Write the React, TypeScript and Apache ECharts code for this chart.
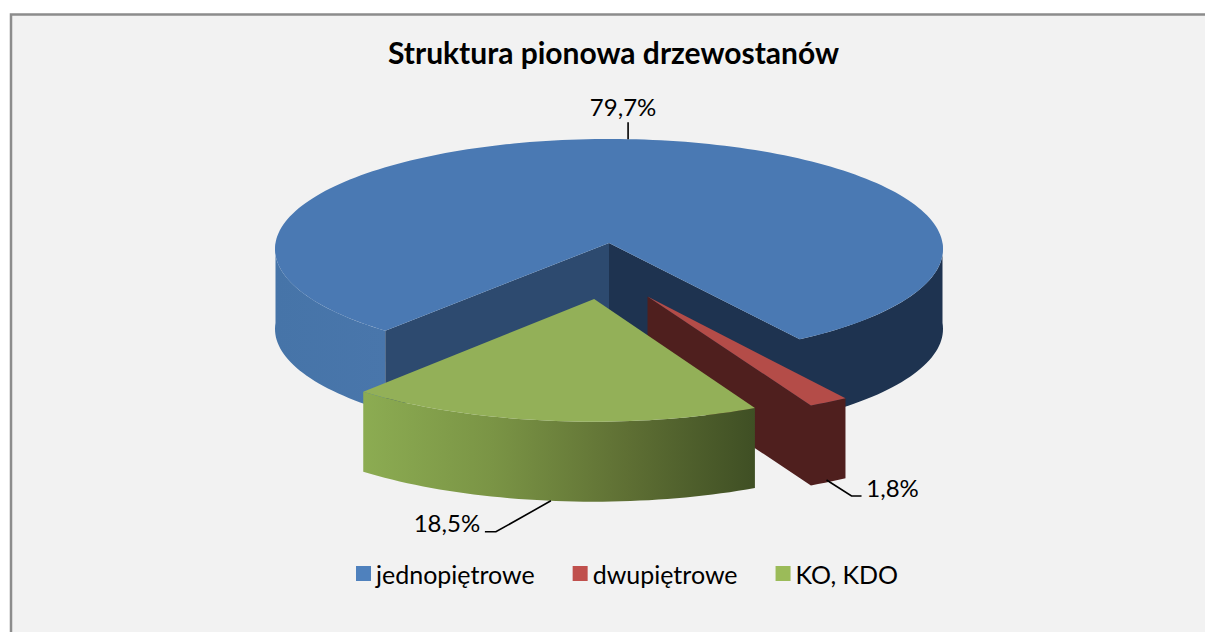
import React, { useEffect, useRef } from "react";
import * as echarts from "echarts";

const categories = ["jednopiętrowe", "dwupiętrowe", "KO, KDO"];
const shares = [79.7, 1.8, 18.5];
const valueLabels = ["79,7%", "1,8%", "18,5%"];
const legendColors = ["#4f81bd", "#c0504d", "#9bbb59"];
const topColors = ["#4a79b3", "#b44c48", "#93b058"];
const titleText = "Struktura pionowa drzewostanów";

// Projection of the tilted disc
const CX = 609, CY = 243, RX = 333.5, RY = 109.7, PERSP = 0.0545, DEPTH = 80;
const START_ANGLE = 220;
const explodeAmount = [0, 0.489, 0.498];
const explodeDirection = [0, 166.7, 185];
const rad = (d: number) => (d * Math.PI) / 180;

function project(u: number, v: number, bottom = false): number[] {
  const w = 1 - PERSP * v;
  return [CX + (RX * u) / w, CY + (RY * v) / w + (bottom ? DEPTH : 0)];
}

function sliceGeom(index: number) {
  let before = 0;
  for (let i = 0; i < index; i++) before += shares[i];
  const a0 = START_ANGLE + (before / 100) * 360;
  const a1 = a0 + (shares[index] / 100) * 360;
  const e = explodeAmount[index];
  const dir = rad(explodeDirection[index]);
  const ox = e * Math.sin(dir);
  const oy = -e * Math.cos(dir);
  const rim = (a: number, bottom = false) =>
    project(ox + Math.sin(rad(a)), oy - Math.cos(rad(a)), bottom);
  const apex = (bottom = false) => project(ox, oy, bottom);
  const arc = (s: number, t: number, bottom = false) => {
    const n = Math.max(2, Math.ceil(Math.abs(t - s) / 1.5));
    const pts: number[][] = [];
    for (let i = 0; i <= n; i++) pts.push(rim(s + ((t - s) * i) / n, bottom));
    return pts;
  };
  return { a0, a1, rim, apex, arc };
}

const hGrad = (stops: string[]) => ({
  type: "linear",
  x: 0,
  y: 0,
  x2: 1,
  y2: 0,
  colorStops: stops.map((color, i) => ({ offset: i / (stops.length - 1), color })),
});

const poly = (points: number[][], fill: any) => ({
  type: "polygon",
  silent: true,
  shape: { points },
  style: { fill, stroke: "none" },
});

function outerSide(g: any, s: number, t: number, fill: any) {
  return poly([...g.arc(s, t), ...g.arc(s, t, true).reverse()], fill);
}

function radialFace(g: any, a: number, fill: any) {
  return poly([g.apex(), g.rim(a), g.rim(a, true), g.apex(true)], fill);
}

// Inner radial wall and outer wall as one continuous dark surface
function wallWithRim(g: any, a: number, far: number, fill: any) {
  return poly(
    [g.apex(), ...g.arc(a, far), ...g.arc(far, a, true), g.apex(true)],
    fill
  );
}

const leaderOffsets = [
  [[0, -17], [0, 0]],
  [[-2, -2], [23, 14], [33, 14]],
  [[0, 0], [-55, 31], [-66, 31]],
];
const labelOffsets = [[-5, -33], [64, 5], [-104, 22]];
const leaderOnBottom = [false, true, true];

function annotation(index: number, g: any) {
  const mid = (g.a0 + g.a1) / 2;
  const [ax, ay] = g.rim(mid, leaderOnBottom[index]);
  const [lx, ly] = labelOffsets[index];
  return [
    {
      type: "polyline",
      silent: true,
      shape: { points: leaderOffsets[index].map(([x, y]) => [ax + x, ay + y]) },
      style: { fill: "none", stroke: "#000", lineWidth: 1.6 },
    },
    {
      type: "text",
      silent: true,
      style: {
        x: ax + lx,
        y: ay + ly,
        text: valueLabels[index],
        fill: "#000",
        font: "24px Lato",
        align: "center",
        verticalAlign: "middle",
      },
    },
  ];
}

function sliceChildren(index: number) {
  const g = sliceGeom(index);
  const kids: any[] = [];
  if (index === 0) {
    kids.push(outerSide(g, g.a0, 270, hGrad(["#4674a8", "#4976ab"])));
    kids.push(radialFace(g, g.a0, "#2d4a6f"));
    kids.push(wallWithRim(g, g.a1 - 360, 90, "#1e3350"));
  } else if (index === 1) {
    kids.push(wallWithRim(g, g.a1 - 360, g.a0 - 360, "#4f1f1e"));
  } else {
    kids.push(
      outerSide(g, g.a0, g.a1, hGrad(["#8cac52", "#7a9445", "#5f7034", "#3f4f24"]))
    );
  }
  kids.push(poly([g.apex(), ...g.arc(g.a0, g.a1)], topColors[index]));
  return kids;
}

export default function App() {
  const ref = useRef<HTMLDivElement>(null);
  useEffect(() => {
    const chart = echarts.init(ref.current!, undefined, { renderer: "svg" });
    const slices = categories.map((name, index) => ({
      type: "custom",
      name,
      coordinateSystem: "none",
      silent: true,
      z: 2 + index,
      itemStyle: { color: legendColors[index] },
      data: [[shares[index]]],
      renderItem: () => ({ type: "group", children: sliceChildren(index) }),
    }));
    const labels = {
      type: "custom",
      name: "labels",
      coordinateSystem: "none",
      silent: true,
      z: 10,
      data: [[0]],
      renderItem: () => ({
        type: "group",
        children: categories.flatMap((_, i) => annotation(i, sliceGeom(i))),
      }),
    };
    chart.setOption({
      animation: false,
      backgroundColor: "#ffffff",
      title: {
        text: titleText,
        left: 608.5,
        top: 32,
        textAlign: "center",
        textStyle: { fontFamily: "Lato", fontWeight: "bold", fontSize: 30, color: "#000" },
      },
      legend: {
        data: categories,
        left: 351,
        top: 556,
        itemWidth: 15,
        itemHeight: 15,
        itemGap: 38,
        icon: "rect",
        selectedMode: false,
        textStyle: { fontFamily: "Lato", fontSize: 25, color: "#000" },
      },
      graphic: [
        {
          type: "rect",
          z: -10,
          silent: true,
          shape: { x: 11, y: 14.5, width: 1300, height: 700 },
          style: { fill: "#f2f2f2", stroke: "#8c8c8c", lineWidth: 2.5 },
        },
      ],
      series: [...slices, labels],
    });
    return () => chart.dispose();
  }, []);
  return (
    <div
      ref={ref}
      style={{ position: "absolute", left: 0, top: 0, width: 1205, height: 632 }}
    />
  );
}
